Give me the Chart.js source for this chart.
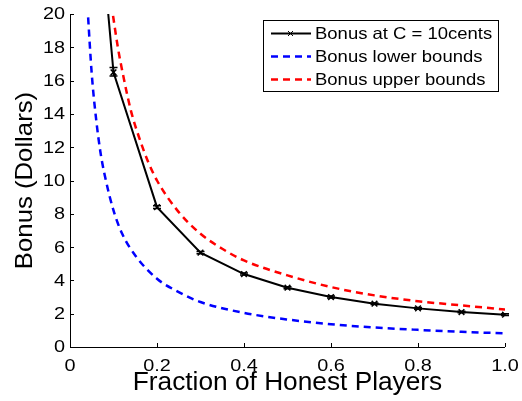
<!DOCTYPE html>
<html>
  <head>
    <script src="https://cdn.jsdelivr.net/npm/chart.js@4"></script>
    <style>
      html, body { margin: 0; padding: 0; background: #fff; }
    </style>
  </head>
  <body>
    <div style="width: 522px; height: 401px">
      <canvas id="canvas"></canvas>
    </div>
    <script>
      // measured bonus at C = 10 cents (first point sits above the plot and is clipped)
      const bonusX = [0.05, 0.1, 0.2, 0.3, 0.4, 0.5, 0.6, 0.7, 0.8, 0.9, 1.0];
      const bonusY = [31, 16.5, 8.4, 5.67, 4.38, 3.56, 3.0, 2.6, 2.32, 2.1, 1.94];
      const bonusLo = [31, 16.28, 8.32, 5.6, 4.32, 3.5, 2.94, 2.55, 2.27, 2.05, 1.89];
      const bonusHi = [31, 16.78, 8.48, 5.74, 4.44, 3.62, 3.06, 2.65, 2.37, 2.15, 1.99];

      // lower bound curve
      const lowerX = [0.04, 0.05, 0.06, 0.07, 0.08, 0.1, 0.12, 0.15, 0.2, 0.25, 0.3, 0.4, 0.5, 0.6, 0.7, 0.8, 0.9, 1.0];
      const lowerY = [20.5, 16.4, 13.7, 11.7, 10.3, 8.2, 6.8, 5.5, 4.1, 3.3, 2.7, 2.05, 1.65, 1.37, 1.17, 1.03, 0.91, 0.82];

      // upper bound curve
      const upperX = [0.095, 0.11, 0.12, 0.14, 0.16, 0.18, 0.2, 0.25, 0.3, 0.35, 0.4, 0.5, 0.6, 0.7, 0.8, 0.9, 1.0];
      const upperY = [20.6, 18.0, 16.6, 14.2, 12.5, 11.1, 10.0, 8.1, 6.8, 5.9, 5.2, 4.3, 3.6, 3.1, 2.75, 2.5, 2.25];

      const xTicks = [0, 0.2, 0.4, 0.6, 0.8, 1.0];
      const xTickLabels = ['0', '0.2', '0.4', '0.6', '0.8', '1.0'];
      const yTicks = [0, 2, 4, 6, 8, 10, 12, 14, 16, 18, 20];

      const xTitle = 'Fraction of Honest Players';
      const yTitle = 'Bonus (Dollars)';

      const pts = (xs, ys) => xs.map((x, i) => ({ x: x, y: ys[i] }));
      const FONT = "'Liberation Sans', Arial, sans-serif";

      // text in the source figure is a bit wider than a plain Arial, so stretch it
      function txt(ctx, s, x, y, size, sx, align, baseline, rot) {
        ctx.save();
        ctx.translate(x, y);
        if (rot) ctx.rotate(rot);
        ctx.scale(sx, 1);
        ctx.font = size + 'px ' + FONT;
        ctx.fillStyle = '#000';
        ctx.textAlign = align;
        ctx.textBaseline = baseline;
        ctx.fillText(s, 0, 0);
        ctx.restore();
      }

      const errorBars = {
        id: 'errorBars',
        afterDatasetsDraw(chart) {
          const ctx = chart.ctx;
          const xs = chart.scales.x, ys = chart.scales.y;
          const area = chart.chartArea;
          ctx.save();
          ctx.strokeStyle = '#000';
          ctx.lineWidth = 1.5;
          bonusX.forEach((x, i) => {
            const px = xs.getPixelForValue(x);
            const y1 = ys.getPixelForValue(bonusLo[i]);
            const y2 = ys.getPixelForValue(bonusHi[i]);
            if (y2 < area.top) return;
            ctx.beginPath();
            ctx.moveTo(px, y1); ctx.lineTo(px, y2);
            ctx.moveTo(px - 4, y1); ctx.lineTo(px + 4, y1);
            ctx.moveTo(px - 4, y2); ctx.lineTo(px + 4, y2);
            ctx.stroke();
          });
          ctx.restore();
        },
      };

      const axesAndLegend = {
        id: 'axesAndLegend',
        afterDraw(chart) {
          const ctx = chart.ctx;
          const a = chart.chartArea;
          const xs = chart.scales.x, ys = chart.scales.y;
          ctx.save();
          // axis lines with small inward ticks
          ctx.strokeStyle = '#000';
          ctx.lineWidth = 1;
          ctx.beginPath();
          ctx.moveTo(a.left + 0.5, a.top);
          ctx.lineTo(a.left + 0.5, a.bottom + 0.5);
          ctx.lineTo(a.right, a.bottom + 0.5);
          xTicks.forEach((t) => {
            const px = Math.round(xs.getPixelForValue(t)) + 0.5;
            ctx.moveTo(px, a.bottom);
            ctx.lineTo(px, a.bottom - 4);
          });
          yTicks.forEach((v) => {
            const py = Math.round(ys.getPixelForValue(v)) + 0.5;
            ctx.moveTo(a.left, py);
            ctx.lineTo(a.left + 4, py);
          });
          ctx.stroke();

          // tick labels
          yTicks.forEach((v) => {
            txt(ctx, String(v), a.left - 5, ys.getPixelForValue(v) + 1, 16, 1.24, 'right', 'middle');
          });
          xTicks.forEach((t, i) => {
            txt(ctx, xTickLabels[i], xs.getPixelForValue(t), a.bottom + 20, 16, 1.24, 'center', 'middle');
          });

          // axis titles
          txt(ctx, xTitle, (a.left + a.right) / 2, 390, 25.5, 1.03, 'center', 'alphabetic');
          txt(ctx, yTitle, 32, (a.top + a.bottom) / 2, 24.5, 1.05, 'center', 'alphabetic', -Math.PI / 2);

          // legend box
          const bx = 263.5, by = 20.5, bw = 235, bh = 71;
          ctx.fillStyle = '#fff';
          ctx.fillRect(bx, by, bw, bh);
          ctx.strokeStyle = '#000';
          ctx.lineWidth = 1;
          ctx.strokeRect(bx, by, bw, bh);
          chart.data.datasets.forEach((ds, i) => {
            const cy = 33.5 + i * 23;
            ctx.strokeStyle = ds.borderColor;
            ctx.lineWidth = ds.borderWidth;
            ctx.setLineDash(ds.borderDash || []);
            ctx.beginPath();
            ctx.moveTo(271, cy);
            ctx.lineTo(311, cy);
            ctx.stroke();
            ctx.setLineDash([]);
            if (i === 0) {
              ctx.lineWidth = 1;
              ctx.beginPath();
              ctx.moveTo(288, cy - 2.5); ctx.lineTo(293, cy + 2.5);
              ctx.moveTo(288, cy + 2.5); ctx.lineTo(293, cy - 2.5);
              ctx.stroke();
            }
            txt(ctx, ds.label, 315, cy + 1, 16.5, 1.12, 'left', 'middle');
          });
          ctx.restore();
        },
      };

      new Chart(document.getElementById('canvas').getContext('2d'), {
        type: 'line',
        data: {
          datasets: [
            {
              label: 'Bonus at C = 10cents',
              data: pts(bonusX, bonusY),
              borderColor: '#000',
              backgroundColor: '#000',
              borderWidth: 2,
              pointStyle: 'crossRot',
              pointRadius: 4,
              pointBorderWidth: 1.5,
              tension: 0,
            },
            {
              label: 'Bonus lower bounds',
              data: pts(lowerX, lowerY),
              borderColor: '#0000ff',
              borderWidth: 2.5,
              borderDash: [7, 5],
              pointRadius: 0,
              cubicInterpolationMode: 'monotone',
            },
            {
              label: 'Bonus upper bounds',
              data: pts(upperX, upperY),
              borderColor: '#ff0000',
              borderWidth: 2.5,
              borderDash: [7, 5],
              pointRadius: 0,
              cubicInterpolationMode: 'monotone',
            },
          ],
        },
        options: {
          responsive: true,
          maintainAspectRatio: false,
          animation: false,
          layout: { padding: { top: 14, right: 17, left: 0, bottom: 0 } },
          plugins: {
            legend: { display: false },
            tooltip: { enabled: false },
          },
          scales: {
            x: {
              type: 'linear',
              min: 0,
              max: 1,
              afterFit: (s) => { s.height = 54; },
              grid: { display: false, drawTicks: false },
              border: { display: false },
              ticks: { display: false },
            },
            y: {
              min: 0,
              max: 20,
              afterFit: (s) => { s.width = 70; },
              grid: { display: false, drawTicks: false },
              border: { display: false },
              ticks: { display: false, stepSize: 2 },
            },
          },
        },
        plugins: [errorBars, axesAndLegend],
      });
    </script>
  </body>
</html>
